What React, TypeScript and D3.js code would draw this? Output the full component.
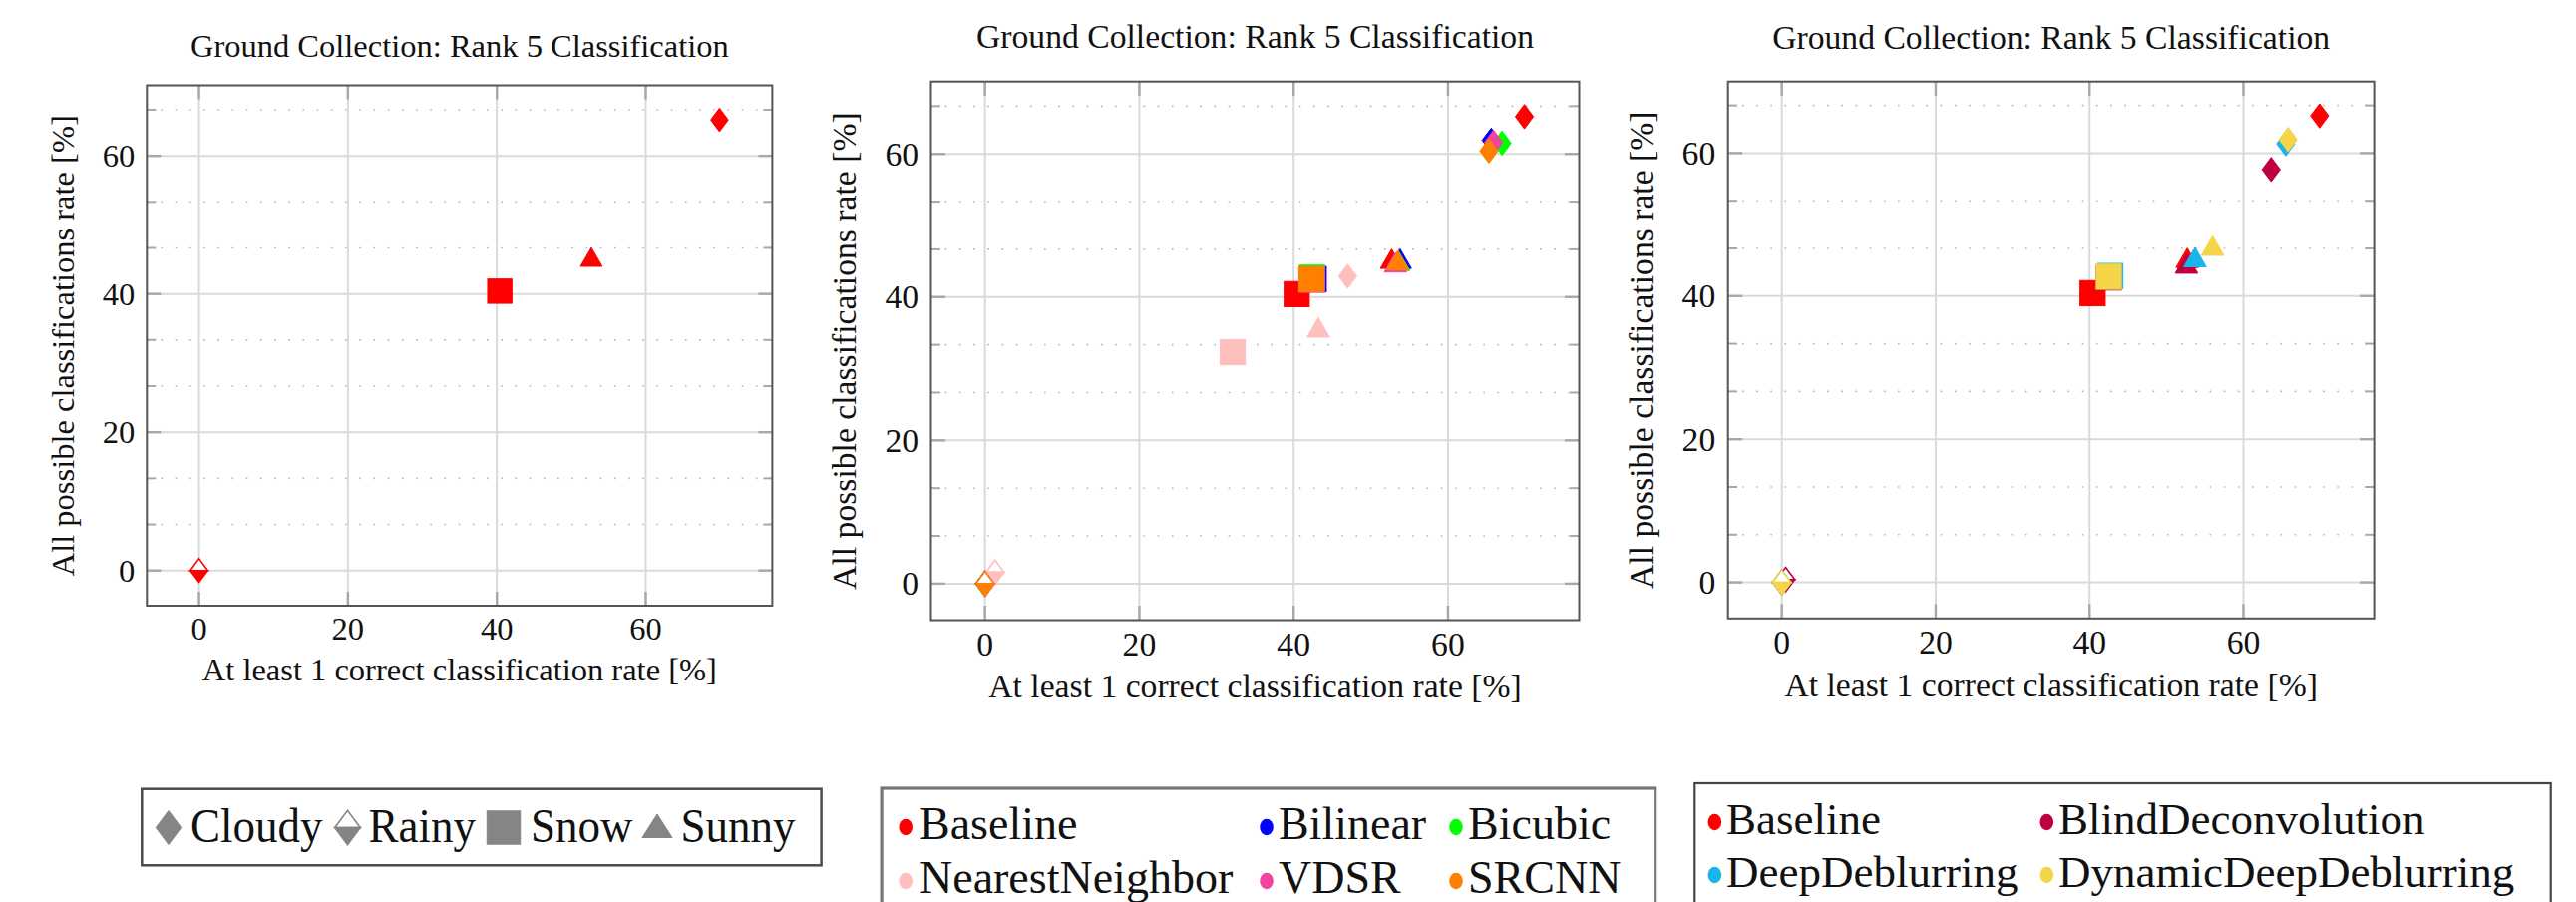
import React from 'react';
import * as d3 from 'd3';

const W = 2583;
const H = 904;
const FONT = '"Liberation Serif", "Times New Roman", Times, serif';

// ---------- data ----------
const weatherTypes = ['Cloudy', 'Rainy', 'Snow', 'Sunny'];
const xTickValues = [0, 20, 40, 60];
const yTickValues = [0, 20, 40, 60];
const yMinorTickValues = [6.667, 13.333, 26.667, 33.333, 46.667, 53.333, 66.667];
const titleText = 'Ground Collection: Rank 5 Classification';
const xLabelText = 'At least 1 correct classification rate [%]';
const yLabelText = 'All possible classifications rate [%]';

// values in order: Cloudy, Rainy, Snow, Sunny
const baselineX = [69.9, 0, 40.4, 52.7];
const baselineY = [65.2, 0, 40.4, 44.9];
const bilinearX = [65.6, 0, 42.6, 53.8];
const bilinearY = [61.9, 0, 42.5, 44.9];
const bicubicX = [67.0, 0, 42.4, 53.6];
const bicubicY = [61.5, 0, 42.7, 44.6];
const nearestX = [47.0, 1.3, 32.1, 43.2];
const nearestY = [42.9, 1.6, 32.3, 35.3];
const vdsrX = [65.9, 0, 42.4, 53.2];
const vdsrY = [61.6, 0, 42.4, 44.4];
const srcnnX = [65.3, 0, 42.3, 53.5];
const srcnnY = [60.4, 0, 42.5, 44.7];
const blindX = [63.6, 0.5, 42.5, 52.6];
const blindY = [57.7, 0.4, 42.6, 44.1];
const deepX = [65.5, 0, 42.7, 53.7];
const deepY = [61.3, 0, 42.8, 45.0];
const dynX = [65.8, 0, 42.5, 56.0];
const dynY = [61.9, 0, 42.7, 46.6];

type Series = { name: string; color: string; xs: number[]; ys: number[] };

const sBaseline: Series = { name: 'Baseline', color: '#ff0000', xs: baselineX, ys: baselineY };
const sBilinear: Series = { name: 'Bilinear', color: '#0000ff', xs: bilinearX, ys: bilinearY };
const sBicubic: Series = { name: 'Bicubic', color: '#00ff00', xs: bicubicX, ys: bicubicY };
const sNearest: Series = { name: 'NearestNeighbor', color: '#ffbfbf', xs: nearestX, ys: nearestY };
const sVdsr: Series = { name: 'VDSR', color: '#f0449e', xs: vdsrX, ys: vdsrY };
const sSrcnn: Series = { name: 'SRCNN', color: '#ff8000', xs: srcnnX, ys: srcnnY };
const sBlind: Series = { name: 'BlindDeconvolution', color: '#bf0040', xs: blindX, ys: blindY };
const sDeep: Series = { name: 'DeepDeblurring', color: '#19b4ea', xs: deepX, ys: deepY };
const sDyn: Series = { name: 'DynamicDeepDeblurring', color: '#f4d549', xs: dynX, ys: dynY };

const panel1Series = [sBaseline];
const panel2Series = [sBaseline, sBilinear, sBicubic, sNearest, sVdsr, sSrcnn];
const panel3Series = [sBaseline, sBlind, sDeep, sDyn];

// ---------- layout ----------
const panels = [
  { left: 147.3, right: 774.4, top: 85.5, bottom: 607, xDomain: [-7, 77], yDomain: [-5.1, 70.2], s: 1, titleDy: 29, series: panel1Series },
  { left: 933.5, right: 1583.5, top: 81.7, bottom: 621.5, xDomain: [-7, 77], yDomain: [-5.1, 70.1], s: 1.036, titleDy: 33.5, series: panel2Series },
  { left: 1732.7, right: 2380.6, top: 81.7, bottom: 619.8, xDomain: [-7, 77], yDomain: [-5.05, 70.0], s: 1.036, titleDy: 32.6, series: panel3Series },
];

function Marker({ shape, x, y, color, k, legend }: { shape: number; x: number; y: number; color: string; k: number; legend?: boolean }) {
  const hw = 8.8 * k;
  const hh = 11.8 * k;
  if (shape === 0) {
    return <path d={`M${x},${y - hh}L${x + hw},${y}L${x},${y + hh}L${x - hw},${y}Z`} fill={color} stroke={color} strokeWidth={1} />;
  }
  if (shape === 1) {
    return (
      <g>
        <path d={`M${x - hw},${y}L${x},${y - hh}L${x + hw},${y}Z`} fill="#fff" stroke={color} strokeWidth={1.6} strokeLinejoin="miter" />
        <path d={`M${x - hw},${y}L${x},${y + hh}L${x + hw},${y}Z`} fill={color} stroke={color} strokeWidth={1.6} />
      </g>
    );
  }
  if (shape === 2) {
    const h = 12.2 * k;
    return <rect x={x - h} y={y - h} width={2 * h} height={2 * h} fill={color} stroke={color} strokeWidth={1} />;
  }
  if (legend) {
    return <path d={`M${x},${y - 13.5}L${x + 15},${y + 10}L${x - 15},${y + 10}Z`} fill={color} stroke={color} strokeWidth={1} />;
  }
  const R = 12.6 * k;
  return <path d={`M${x},${y - R}L${x + R * 0.866},${y + R / 2}L${x - R * 0.866},${y + R / 2}Z`} fill={color} stroke={color} strokeWidth={1} />;
}

function Panel({ p }: { p: (typeof panels)[number] }) {
  const x = d3.scaleLinear().domain(p.xDomain).range([p.left, p.right]);
  const y = d3.scaleLinear().domain(p.yDomain).range([p.bottom, p.top]);
  const s = p.s;
  const fs = 32.5 * s;
  const tickCol = '#a8a8a8';
  const majorLen = 14 * s;
  const minorLen = 9 * s;
  const cx = (p.left + p.right) / 2;
  const cy = (p.top + p.bottom) / 2;
  return (
    <g>
      {yMinorTickValues.map((v) => (
        <line key={'mg' + v} x1={p.left} x2={p.right} y1={y(v)} y2={y(v)} stroke="#b5b5b5" strokeWidth={1.6} strokeDasharray="1.6 12.6" />
      ))}
      {xTickValues.map((v) => (
        <line key={'gx' + v} x1={x(v)} x2={x(v)} y1={p.top} y2={p.bottom} stroke="#dadada" strokeWidth={2} />
      ))}
      {yTickValues.map((v) => (
        <line key={'gy' + v} x1={p.left} x2={p.right} y1={y(v)} y2={y(v)} stroke="#dadada" strokeWidth={2} />
      ))}
      {xTickValues.map((v) => (
        <g key={'tx' + v}>
          <line x1={x(v)} x2={x(v)} y1={p.bottom} y2={p.bottom - majorLen} stroke={tickCol} strokeWidth={2.4} />
          <line x1={x(v)} x2={x(v)} y1={p.top} y2={p.top + majorLen} stroke={tickCol} strokeWidth={2.4} />
        </g>
      ))}
      {yTickValues.map((v) => (
        <g key={'ty' + v}>
          <line x1={p.left} x2={p.left + majorLen} y1={y(v)} y2={y(v)} stroke={tickCol} strokeWidth={2.4} />
          <line x1={p.right} x2={p.right - majorLen} y1={y(v)} y2={y(v)} stroke={tickCol} strokeWidth={2.4} />
        </g>
      ))}
      {yMinorTickValues.map((v) => (
        <g key={'tmy' + v}>
          <line x1={p.left} x2={p.left + minorLen} y1={y(v)} y2={y(v)} stroke={tickCol} strokeWidth={2} />
          <line x1={p.right} x2={p.right - minorLen} y1={y(v)} y2={y(v)} stroke={tickCol} strokeWidth={2} />
        </g>
      ))}
      {p.series.map((ser) =>
        weatherTypes.map((w, i) => (
          <Marker key={ser.name + w} shape={i} x={x(ser.xs[i])} y={y(ser.ys[i])} color={ser.color} k={s} />
        ))
      )}
      <rect x={p.left} y={p.top} width={p.right - p.left} height={p.bottom - p.top} fill="none" stroke="#555" strokeWidth={2} />
      {xTickValues.map((v) => (
        <text key={'lx' + v} x={x(v)} y={p.bottom + 34 * s} textAnchor="middle" fontSize={fs} fontFamily={FONT} fill="#111">
          {v}
        </text>
      ))}
      {yTickValues.map((v) => (
        <text key={'ly' + v} x={p.left - 12 * s} y={y(v)} dy="0.34em" textAnchor="end" fontSize={fs} fontFamily={FONT} fill="#111">
          {v}
        </text>
      ))}
      <text x={cx} y={p.top - p.titleDy} textAnchor="middle" fontSize={fs} fontFamily={FONT} fill="#111">
        {titleText}
      </text>
      <text x={cx} y={p.bottom + 75 * s} textAnchor="middle" fontSize={fs} fontFamily={FONT} fill="#111">
        {xLabelText}
      </text>
      <text transform={`translate(${p.left - 73 * s},${cy}) rotate(-90)`} textAnchor="middle" fontSize={fs} fontFamily={FONT} fill="#111">
        {yLabelText}
      </text>
    </g>
  );
}

function LegendWeather() {
  const box = { x: 142.3, y: 790.7, w: 681.3, h: 76.6 };
  const markerX = [169, 348.5, 505, 659];
  const textX = [191, 369.4, 532, 682.6];
  const my = 829.5;
  const gray = '#858585';
  return (
    <g>
      <rect x={box.x} y={box.y} width={box.w} height={box.h} fill="#fff" stroke="#4a4a4a" strokeWidth={2.5} />
      {weatherTypes.map((w, i) => (
        <g key={w}>
          <Marker shape={i} x={markerX[i]} y={my} color={gray} k={i === 2 ? 1.37 : 1.45} legend />
          <text transform={`translate(${textX[i]},843.5) scale(1,1.07)`} fontSize={45} fontFamily={FONT} fill="#111">
            {w}
          </text>
        </g>
      ))}
    </g>
  );
}

function LegendMethods({ series, box, dotX, textX, rows, fs, stroke, sw }: { series: Series[]; box: { x: number; y: number; w: number; h: number }; dotX: number[]; textX: number[]; rows: number[]; fs: number; stroke: string; sw: number }) {
  const cols = dotX.length;
  return (
    <g>
      <rect x={box.x} y={box.y} width={box.w} height={box.h} fill="#fff" stroke={stroke} strokeWidth={sw} />
      {series.map((ser, i) => {
        const c = i % cols;
        const r = Math.floor(i / cols);
        return (
          <g key={ser.name}>
            <ellipse cx={dotX[c]} cy={rows[r] - 12} rx={6.8} ry={8.2} fill={ser.color} />
            <text x={textX[c]} y={rows[r]} fontSize={fs} fontFamily={FONT} fill="#111">
              {ser.name}
            </text>
          </g>
        );
      })}
    </g>
  );
}

export default function App() {
  return (
    <svg width={W} height={H} viewBox={`0 0 ${W} ${H}`} style={{ position: 'absolute', left: 0, top: 0, display: 'block', background: '#fff' }}>
      <rect x={0} y={0} width={W} height={H} fill="#fff" />
      {panels.map((p, i) => (
        <Panel key={i} p={p} />
      ))}
      <LegendWeather />
      <LegendMethods
        series={panel2Series}
        box={{ x: 884.1, y: 790, w: 775.6, h: 150 }}
        dotX={[908.2, 1270, 1460]}
        textX={[922, 1282, 1472]}
        rows={[841, 895]}
        fs={46}
        stroke="#777"
        sw={3.2}
      />
      <LegendMethods
        series={panel3Series}
        box={{ x: 1699.3, y: 785, w: 858.4, h: 150 }}
        dotX={[1719.4, 2052.3]}
        textX={[1731, 2064]}
        rows={[836, 889]}
        fs={45}
        stroke="#444"
        sw={2.2}
      />
    </svg>
  );
}
